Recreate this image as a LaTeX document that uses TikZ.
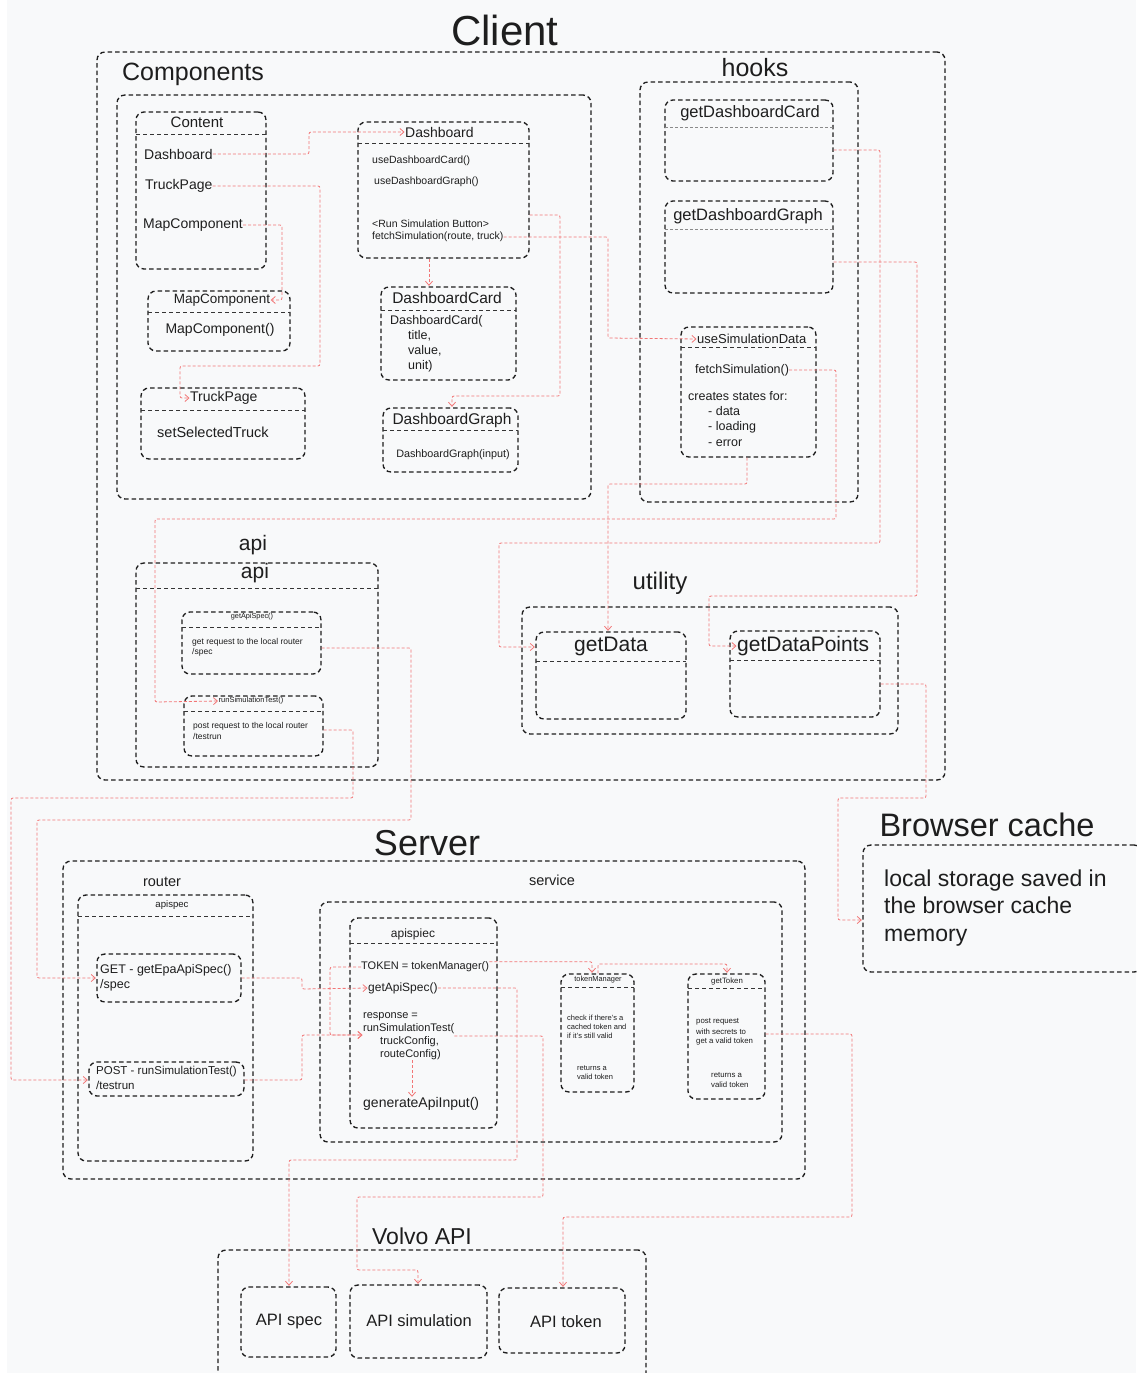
\documentclass[tikz,border=0pt]{standalone}
\usepackage{fontspec}
\setmainfont{Liberation Sans}
\usetikzlibrary{arrows.meta,fit}
\definecolor{ink}{HTML}{1E1E1E}
\definecolor{wirec}{HTML}{F27676}
\definecolor{paper}{HTML}{F8F9FA}
\definecolor{rulec}{HTML}{8A8A8A}
\newcommand\fsz[1]{\fontsize{#1}{#1}\selectfont}
\tikzset{
  frame/.style={draw=ink, line width=1.35pt, dash pattern=on 4.5pt off 3pt, rounded corners=8pt, inner sep=0pt},
  divider/.style={draw=ink!90, line width=1pt, dash pattern=on 4pt off 3pt},
  softdivider/.style={draw=rulec, line width=0.9pt, dash pattern=on 3pt off 2pt},
  wire/.style={draw=wirec, line width=0.8pt, dash pattern=on 3pt off 2pt, rounded corners=2pt,
    -{Straight Barb[length=4pt,width=7pt,line width=0.8pt]}, shorten >=0.5pt},
  txt/.style={text=ink, inner sep=0pt, anchor=west},
  ctxt/.style={text=ink, inner sep=0pt},
}
% panel: name, top-left corner, bottom-right corner
\newcommand\panel[5]{\node[frame, fit={(#2,#3) (#4,#5)}] (#1) {};}

\begin{document}
\begin{tikzpicture}[x=1pt, y=-1pt]
\fill[white] (0,0) rectangle (1136,1373);
\fill[paper] (7,0) rectangle (1136,1373);
\useasboundingbox (0,0) rectangle (1136,1373);

% ---------------- Client ----------------
\node[ctxt, font=\fsz{42}] (tClient) at (505,30) {Client};
\panel{client}{97}{52}{945}{780}

\node[ctxt, font=\fsz{25}] (tComp) at (193,74) {Components};
\panel{comp}{117}{95}{591}{499}

% Content
\panel{content}{136}{112}{266}{269}
\draw[divider] (136,134) -- (266,134);
\node[ctxt, font=\fsz{15}] (contentT) at (197,122) {Content};
\node[txt, font=\fsz{14}] (cDash) at (144,154) {Dashboard};
\node[txt, font=\fsz{14}] (cTruck) at (145,186) {TruckPage};
\node[txt, font=\fsz{14}] (cMap) at (143,225) {MapComponent};

% Dashboard
\panel{dash}{358}{122}{529}{258}
\draw[divider] (358,143) -- (529,143);
\node[txt, font=\fsz{14}] (dashT) at (405,132) {Dashboard};
\node[txt, font=\fsz{10.5}] (dUseCard) at (372,161) {useDashboardCard()};
\node[txt, font=\fsz{10.5}] (dUseGraph) at (374,182) {useDashboardGraph()};
\node[txt, font=\fsz{10.5}] (dRun) at (372,224) {<Run Simulation Button>};
\node[txt, font=\fsz{10.5}] (dFetch) at (372,237) {fetchSimulation(route, truck)};

% MapComponent
\panel{mapc}{148}{291}{290}{351}
\draw[divider] (148,312) -- (290,312);
\node[ctxt, font=\fsz{13.5}] (mapT) at (222,300) {MapComponent};
\node[ctxt, font=\fsz{14}] (mapB) at (220,330) {MapComponent()};

% TruckPage
\panel{truck}{141}{388}{305}{459}
\draw[divider] (141,410) -- (305,410);
\node[txt, font=\fsz{14}] (truckT) at (190,398) {TruckPage};
\node[txt, font=\fsz{14.5}] (truckB) at (157,432) {setSelectedTruck};

% DashboardCard
\panel{dcard}{381}{287}{516}{380}
\draw[divider] (381,310) -- (516,310);
\node[ctxt, font=\fsz{15.5}] (dcardT) at (447,298) {DashboardCard};
\node[txt, font=\fsz{12.5}] (dcB1) at (390,321) {DashboardCard(};
\node[txt, font=\fsz{12.5}] (dcB2) at (408,336) {title,};
\node[txt, font=\fsz{12.5}] (dcB3) at (408,351) {value,};
\node[txt, font=\fsz{12.5}] (dcB4) at (408,366) {unit)};

% DashboardGraph
\panel{dgraph}{383}{408}{518}{472}
\draw[divider] (383,430) -- (518,430);
\node[ctxt, font=\fsz{15.5}] (dgraphT) at (452,420) {DashboardGraph};
\node[ctxt, font=\fsz{10.8}] (dgraphB) at (453,455) {DashboardGraph(input)};

% hooks
\node[ctxt, font=\fsz{25}] (tHooks) at (755,68) {hooks};
\panel{hooks}{640}{82}{858}{502}

\panel{gdc}{665}{100}{833}{181}
\draw[softdivider] (665,127) -- (833,127);
\node[ctxt, font=\fsz{16.5}] (gdcT) at (750,113) {getDashboardCard};

\panel{gdg}{665}{201}{833}{293}
\draw[softdivider] (665,229) -- (833,229);
\node[ctxt, font=\fsz{16.5}] (gdgT) at (748,216) {getDashboardGraph};

\panel{usd}{681}{327}{816}{457}
\draw[divider] (681,347) -- (816,347);
\node[txt, font=\fsz{13}] (usdT) at (697,339) {useSimulationData};
\node[txt, font=\fsz{12.5}] (uFetch) at (695,370) {fetchSimulation()};
\node[txt, font=\fsz{12.5}] (uStates) at (688,396) {creates states for:};
\node[txt, font=\fsz{12.5}] (uData) at (708,411) {- data};
\node[txt, font=\fsz{12.5}] (uLoad) at (708,427) {- loading};
\node[txt, font=\fsz{12.5}] (uErr) at (708,443) {- error};

% api
\node[ctxt, font=\fsz{21}] (tApi) at (253,545) {api};
\panel{api}{136}{563}{378}{767}
\draw[divider] (136,588) -- (378,588);
\node[ctxt, font=\fsz{21}] (apiT) at (255,573) {api};

\panel{gas}{182}{612}{321}{674}
\draw[divider] (182,627) -- (321,627);
\node[ctxt, font=\fsz{7.3}] (gasT) at (252,617) {getApiSpec()};
\node[txt, font=\fsz{8.5}] (gasB1) at (192,642) {get request to the local router};
\node[txt, font=\fsz{8.5}] (gasB2) at (192,652) {/spec};

\panel{rs}{184}{696}{323}{756}
\draw[divider] (184,711) -- (323,711);
\node[ctxt, font=\fsz{7.5}] (runT) at (251,701) {runSimulationTest()};
\node[txt, font=\fsz{8.5}] (rsB1) at (193,726) {post request to the local router};
\node[txt, font=\fsz{8.5}] (rsB2) at (193,736) {/testrun};

% utility
\node[ctxt, font=\fsz{24}] (tUtil) at (660,583) {utility};
\panel{util}{522}{607}{898}{734}

\panel{gdata}{536}{632}{686}{719}
\draw[divider] (536,661) -- (686,661);
\node[ctxt, font=\fsz{21}] (gdataT) at (611,646) {getData};

\panel{gdp}{730}{631}{880}{717}
\draw[divider] (730,660) -- (880,660);
\node[txt, font=\fsz{21}] (gdpT) at (737,646) {getDataPoints};

% ---------------- Browser cache ----------------
\node[ctxt, font=\fsz{32.5}] (tCache) at (987,825) {Browser cache};
\panel{bc}{863}{845}{1142}{972}
\node[txt, font=\fontsize{23}{27.5}\selectfont, align=left] (bcB) at (884,908)
  {local storage saved in\\the browser cache\\memory};

% ---------------- Server ----------------
\node[ctxt, font=\fsz{36}] (tServer) at (427,843) {Server};
\panel{server}{63}{861}{805}{1179}

\node[ctxt, font=\fsz{14.5}] (tRouter) at (162,882) {router};
\panel{router}{78}{895}{253}{1161}
\draw[divider] (78,916) -- (253,916);
\node[ctxt, font=\fsz{9.6}] (routerT) at (172,905) {apispec};

\panel{get}{97}{954}{241}{1002}
\node[txt, font=\fsz{12.5}] (getB1) at (100,970) {GET - getEpaApiSpec()};
\node[txt, font=\fsz{12.5}] (getB2) at (100,985) {/spec};

\panel{post}{89}{1062}{244}{1096}
\node[txt, font=\fsz{11.5}] (postB1) at (96,1072) {POST - runSimulationTest()};
\node[txt, font=\fsz{11.5}] (postB2) at (96,1085) {/testrun};

\node[ctxt, font=\fsz{14.5}] (tService) at (552,880) {service};
\panel{service}{320}{902}{782}{1142}

\panel{aspc}{350}{918}{497}{1128}
\draw[divider] (350,943) -- (497,943);
\node[ctxt, font=\fsz{12}] (aspcT) at (413,934) {apispiec};
\node[txt, font=\fsz{11}] (sToken) at (361,967) {TOKEN = tokenManager()};
\node[txt, font=\fsz{12}] (sSpec) at (368,988) {getApiSpec()};
\node[txt, font=\fsz{11}] (sResp) at (363,1017) {response =};
\node[txt, font=\fsz{11}] (sRun) at (363,1029) {runSimulationTest(};
\node[txt, font=\fsz{11}] (sTruck) at (380,1042) {truckConfig,};
\node[txt, font=\fsz{11}] (sRoute) at (380,1055) {routeConfig)};
\node[txt, font=\fsz{14}] (sGen) at (363,1104) {generateApiInput()};

\panel{tm}{561}{974}{634}{1092}
\draw[divider] (561,987) -- (634,987);
\node[ctxt, font=\fsz{7.4}] (tmT) at (598,980) {tokenManager};
\node[txt, font=\fsz{7.5}] (tmB1) at (567,1018) {check if there's a};
\node[txt, font=\fsz{7.5}] (tmB2) at (567,1027) {cached token and};
\node[txt, font=\fsz{7.5}] (tmB3) at (567,1036) {if it's still valid};
\node[txt, font=\fsz{7.5}] (tmB4) at (577,1068) {returns a};
\node[txt, font=\fsz{7.5}] (tmB5) at (577,1077) {valid token};

\panel{gt}{688}{974}{765}{1099}
\draw[divider] (688,988) -- (765,988);
\node[ctxt, font=\fsz{7.8}] (gtT) at (727,981) {getToken};
\node[txt, font=\fsz{7.8}] (gtB1) at (696,1022) {post request};
\node[txt, font=\fsz{7.8}] (gtB2) at (696,1032) {with secrets to};
\node[txt, font=\fsz{7.8}] (gtB3) at (696,1041) {get a valid token};
\node[txt, font=\fsz{7.8}] (gtB4) at (711,1075) {returns a};
\node[txt, font=\fsz{7.8}] (gtB5) at (711,1085) {valid token};

% ---------------- Volvo API ----------------
\node[ctxt, font=\fsz{23}] (tVolvo) at (422,1236) {Volvo API};
\panel{volvo}{218}{1250}{646}{1385}
\panel{aspec}{241}{1287}{336}{1357}
\node[ctxt, font=\fsz{16.5}] (aspecT) at (289,1322) {API spec};
\panel{asim}{350}{1285}{487}{1358}
\node[ctxt, font=\fsz{16.5}] (asimT) at (419,1321) {API simulation};
\panel{atok}{499}{1288}{625}{1353}
\node[ctxt, font=\fsz{16.5}] (atokT) at (566,1322) {API token};

% ---------------- connectors ----------------
\draw[wire] (cDash.east) -| (309,132) -- (dashT.west);
\draw[wire] (cTruck.east) -| (320,366) -| (180,398) -- (truckT.west);
\draw[wire] (cMap.east) -| (282,300) -- (mapT.east);
\draw[wire] (429,0 |- dash.south) -- (429,0 |- dcard.north);
\draw[wire] (dash.east |- 0,215) -| (560,396) -| (452,0 |- dgraph.north);
\draw[wire] (dFetch.east) -| (608,338) -- (usdT.west);
\draw[wire] (gdc.east |- 0,150) -| (880,543) -| (499,647) -- (gdata.west |- 0,647);
\draw[wire] (gdg.east |- 0,262) -| (917,596) -| (709,646) -- (gdpT.west);
\draw[wire] (747,0 |- usd.south) -- (747,484) -| (608,0 |- gdata.north);
\draw[wire] (uFetch.east) -| (836,519) -| (155,702) -- (runT.west);
\draw[wire] (gas.east |- 0,648) -| (411,820) -| (37,978) -- (get.west |- 0,978);
\draw[wire] (rs.east |- 0,730) -| (353,798) -| (11,1080) -- (post.west |- 0,1080);
\draw[wire] (gdp.east |- 0,684) -| (926,798) -| (838,920) -- (bc.west |- 0,920);

\draw[wire] (get.east |- 0,978) -| (302,989) -- (sSpec.west);
\draw[wire] (post.east |- 0,1080) -| (302,1035) -- (sRun.west |- 0,1035);
\draw[wire] (sToken.west) -| (330,1035) -- (sRun.west |- 0,1035);
\draw[wire] (412,0 |- sRoute.south) -- (412,0 |- sGen.north);
\draw[wire] (sToken.north east) -| (592,0 |- tm.north);
\draw[wire] (598,0 |- tm.north) -- (598,964) -| (727,0 |- gt.north);

\draw[wire] (sSpec.east) -| (517,1160) -| (289,0 |- aspec.north);
\draw[wire] (sRun.east |- 0,1036) -| (543,1197) -| (357,1270) -| (418,0 |- asim.north);
\draw[wire] (gt.east |- 0,1034) -| (852,1217) -| (563,0 |- atok.north);
\end{tikzpicture}
\end{document}
